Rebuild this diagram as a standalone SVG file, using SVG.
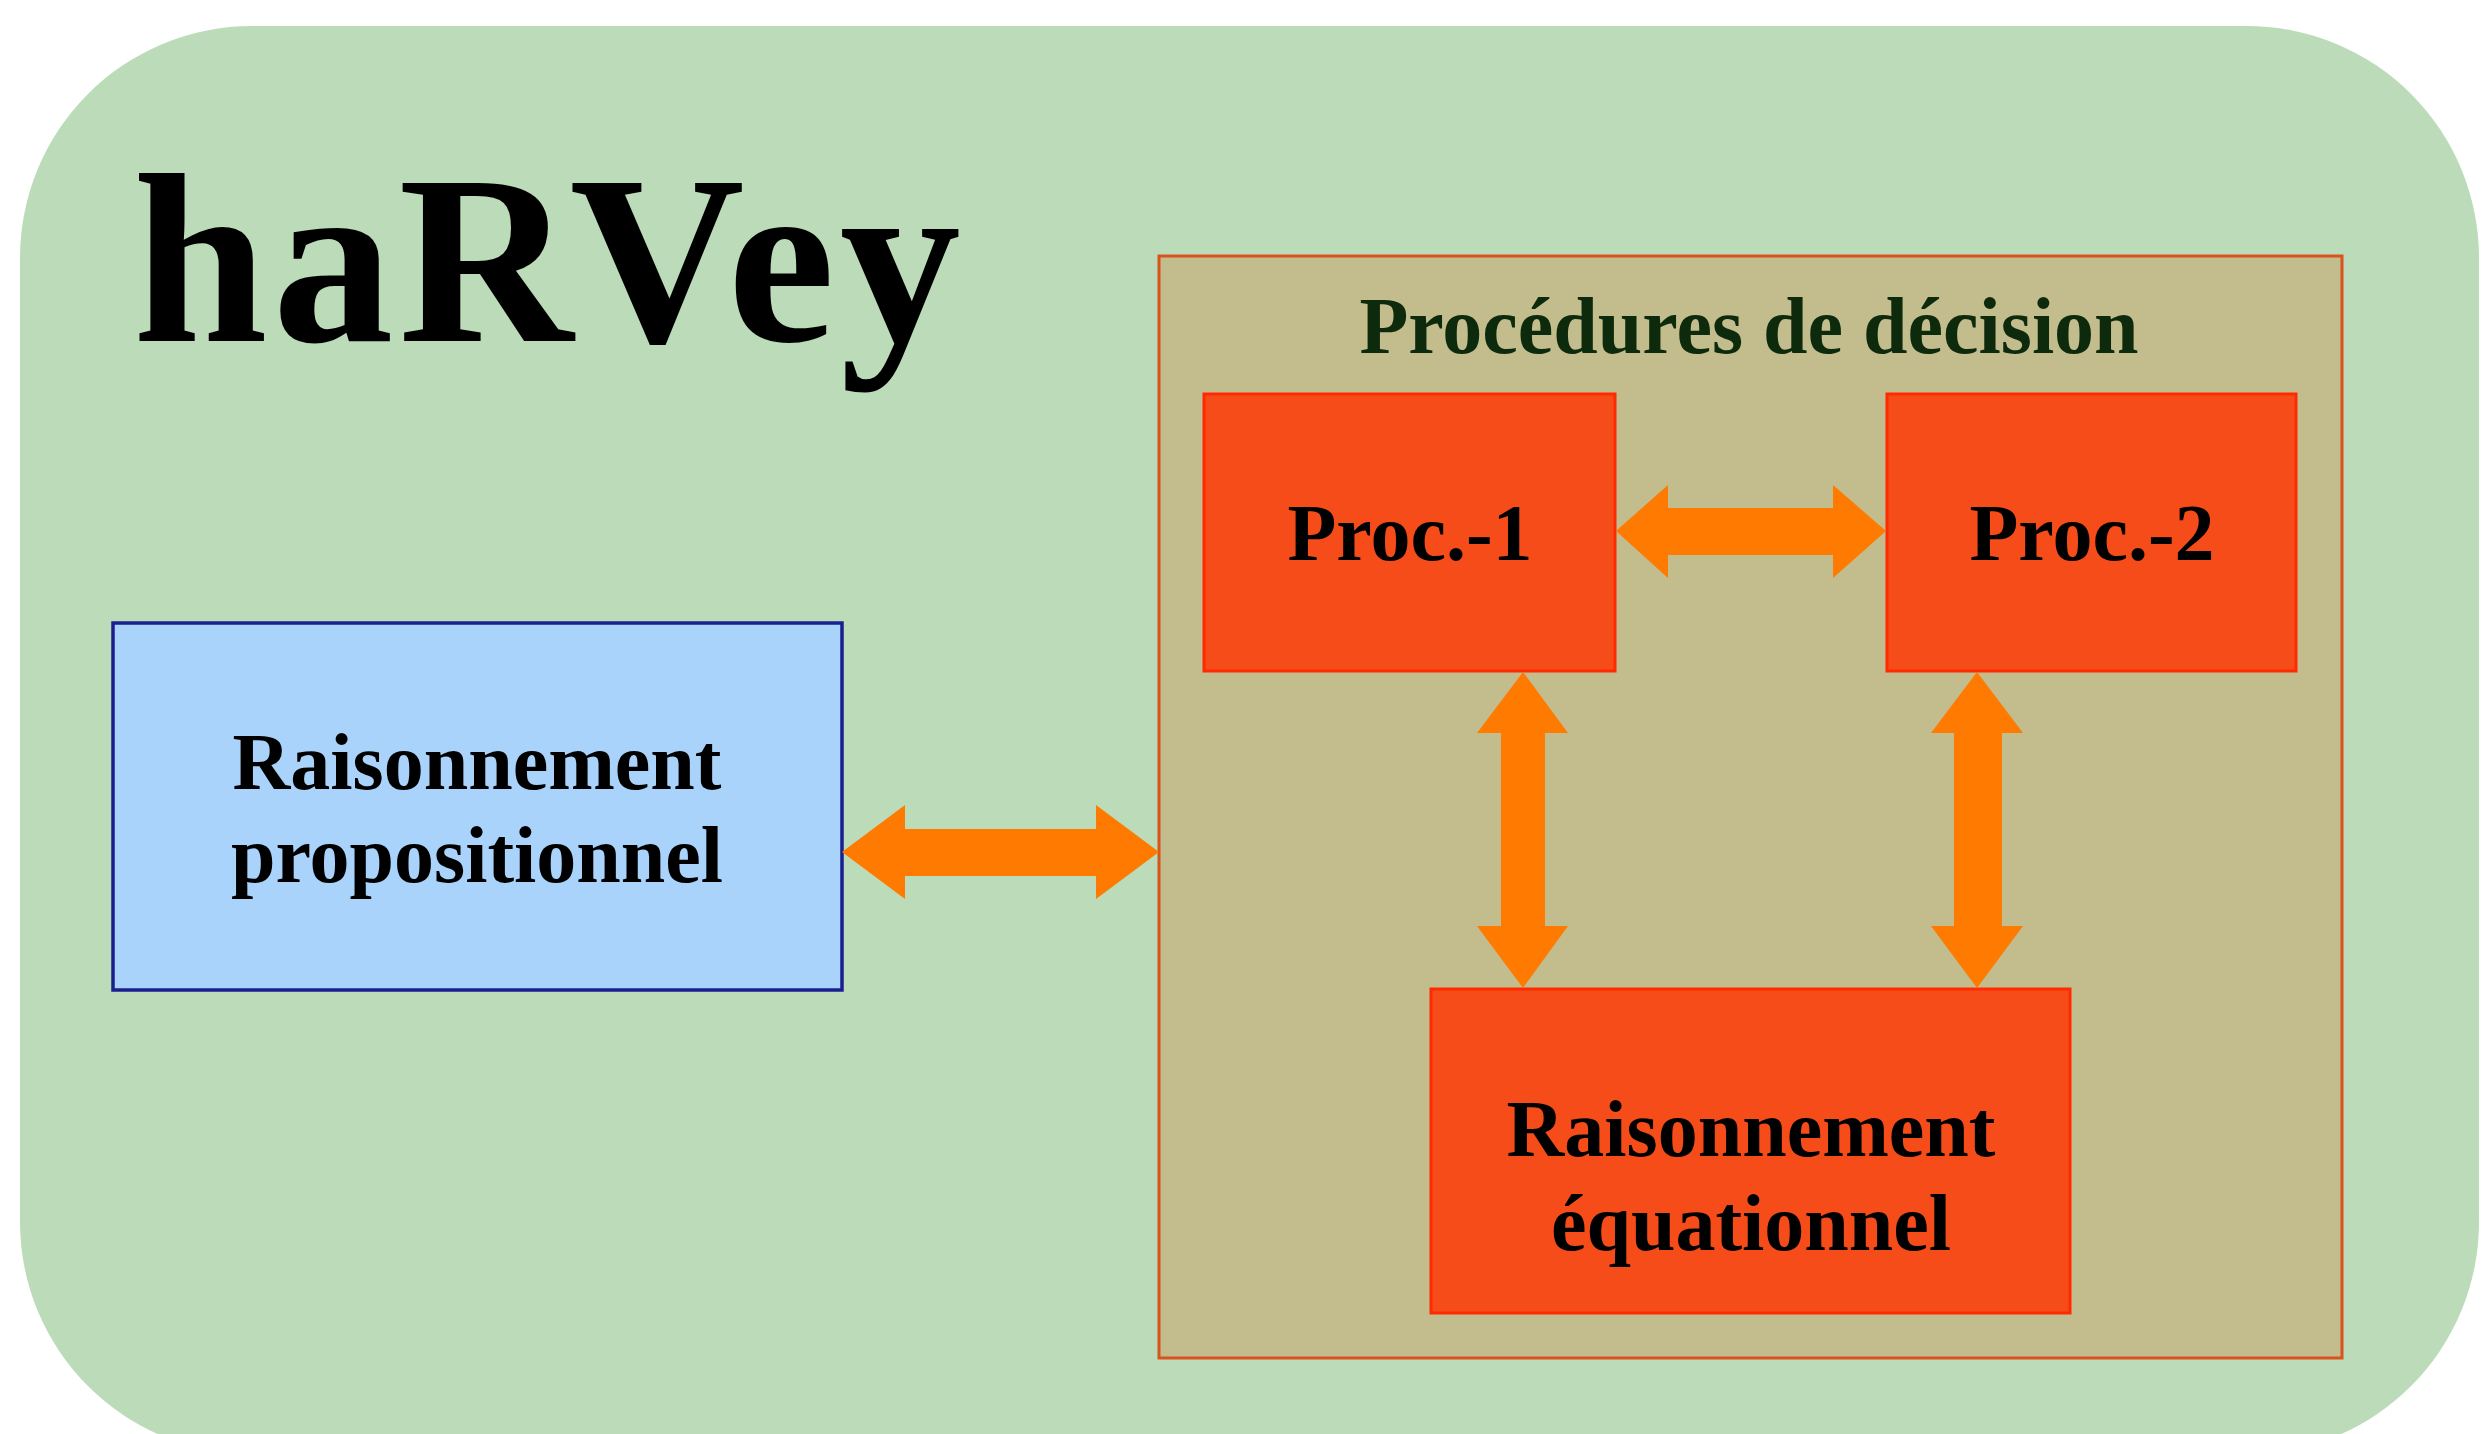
<svg xmlns="http://www.w3.org/2000/svg" width="2491" height="1434" viewBox="0 0 2491 1434">
<style>
.title{font-family:"Liberation Serif","Times New Roman",serif;font-weight:bold;font-size:242px;letter-spacing:5px;fill:#000}
.lbl{font-family:"Liberation Serif","Times New Roman",serif;font-weight:bold;font-size:80px;fill:#000;text-anchor:middle}
.grp{font-family:"Liberation Serif","Times New Roman",serif;font-weight:bold;font-size:80px;fill:#0d2a0d;text-anchor:middle}
.proc{fill:#f54c1a;stroke:#ff2a00;stroke-width:3}
.arrow{fill:#ff7a00}
</style>
<rect x="0" y="0" width="2491" height="1434" fill="#ffffff"/>
<rect id="background" x="20" y="26" width="2459" height="1428" rx="232" ry="232" fill="#bcdcb9"/>
<text id="title" class="title" x="133" y="341">haRVey</text>
<g id="decision-procedures">
  <rect x="1159" y="256" width="1183" height="1102" fill="#c3bc8c" stroke="#d9531c" stroke-width="3"/>
  <text class="grp" x="1749" y="353">Procédures de décision</text>
</g>
<g id="prop">
  <rect x="113" y="623" width="729" height="367" fill="#a9d3fb" stroke="#1a1f8f" stroke-width="3.5"/>
  <text class="lbl" x="477" y="789">Raisonnement</text>
  <text class="lbl" x="477" y="882">propositionnel</text>
</g>
<g id="proc1">
  <rect class="proc" x="1204" y="394" width="411" height="277"/>
  <text class="lbl" x="1410" y="560">Proc.-1</text>
</g>
<g id="proc2">
  <rect class="proc" x="1887" y="394" width="409" height="277"/>
  <text class="lbl" x="2092" y="560">Proc.-2</text>
</g>
<g id="equational">
  <rect class="proc" x="1431" y="989" width="639" height="324"/>
  <text class="lbl" x="1751" y="1156">Raisonnement</text>
  <text class="lbl" x="1751" y="1250">équationnel</text>
</g>
<g id="connectors">
  <polygon class="arrow" points="842,852 905,805 905,829 1096,829 1096,805 1159,852 1096,899 1096,876 905,876 905,899"/>
  <polygon class="arrow" points="1616,531 1668,485 1668,508 1833,508 1833,485 1886,531 1833,578 1833,555 1668,555 1668,578"/>
  <polygon class="arrow" points="1523,672 1568,733 1545,733 1545,926 1568,926 1523,988 1477,926 1501,926 1501,733 1477,733"/>
  <polygon class="arrow" points="1977,672 2023,733 2002,733 2002,926 2023,926 1977,988 1931,926 1954,926 1954,733 1931,733"/>
</g>
</svg>
